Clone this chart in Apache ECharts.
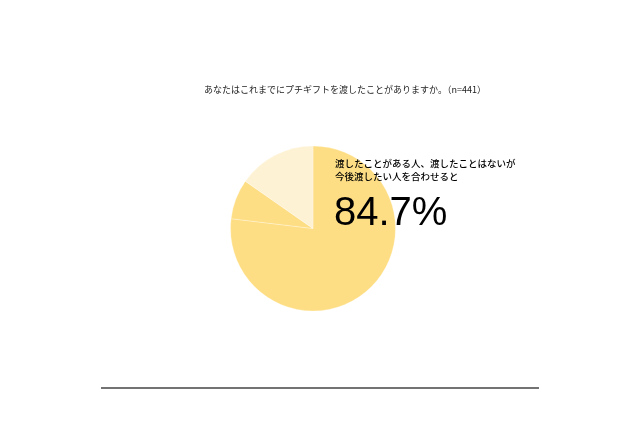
<!DOCTYPE html>
<html><head><meta charset="utf-8">
<script src="https://cdn.jsdelivr.net/npm/echarts@6/dist/echarts.min.js"></script>
<style>html,body{margin:0;padding:0;background:#fff}#c{width:640px;height:426px}</style>
</head><body><div id="c"></div>
<script>
const titleText = 'あなたはこれまでにプチギフトを渡したことがありますか。（n=441）';
const categories = ['渡したことがある', '渡したことはないが今後渡したい', 'その他'];
const values = [76.9, 7.8, 15.3];
const sliceColors = ['#FEDE84', '#FEDE84', '#FEF2D4'];
const noteLines = ['渡したことがある人、渡したことはないが', '今後渡したい人を合わせると'];
const bigValue = '84.7%';

const chart = echarts.init(document.getElementById('c'), null, {renderer: 'canvas'});
const jp = '"Noto Sans CJK JP", sans-serif';
chart.setOption({
  backgroundColor: '#ffffff',
  animation: false,
  title: {
    text: titleText, left: 340, top: 80, textAlign: 'center',
    textStyle: {fontFamily: jp, fontSize: 9, fontWeight: 'normal', color: '#222'}
  },
  series: [{
    type: 'pie',
    center: [313, 228.5],
    radius: [0, 82.5],
    startAngle: 90,
    clockwise: true,
    z: 1,
    label: {show: false},
    labelLine: {show: false},
    emphasis: {disabled: true},
    itemStyle: {borderColor: 'rgba(255,255,255,0.7)', borderWidth: 0.4},
    data: categories.map((n, i) => ({name: n, value: values[i], itemStyle: {color: sliceColors[i]}}))
  }],
  graphic: [
    {type: 'text', z: 100, left: 335, top: 159, style: {text: noteLines[0], font: '500 9.5px ' + jp, fill: '#000'}},
    {type: 'text', z: 100, left: 335, top: 172, style: {text: noteLines[1], font: '500 9.5px ' + jp, fill: '#000'}},
    {type: 'text', z: 100, left: 334, top: 194, style: {text: bigValue, font: '40px "Liberation Sans", Arial, sans-serif', fill: '#000'}},
    {type: 'line', z: 100, shape: {x1: 101, y1: 388, x2: 539, y2: 388}, style: {stroke: '#444', lineWidth: 1.5}}
  ]
});
</script></body></html>
